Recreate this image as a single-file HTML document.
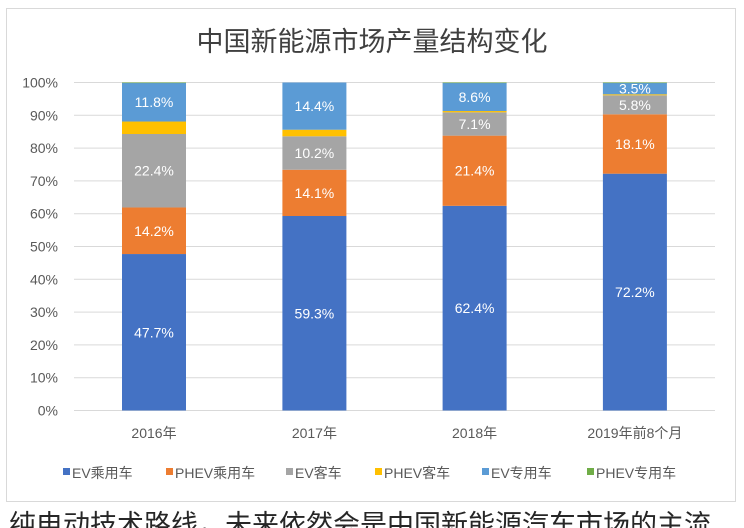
<!DOCTYPE html>
<html><head><meta charset="utf-8"><style>
html,body{margin:0;padding:0;background:#fff;width:744px;height:528px;overflow:hidden}
svg{display:block}
text{font-family:"Liberation Sans","Noto Sans CJK SC",sans-serif}
</style></head><body>
<svg width="744" height="528" viewBox="0 0 744 528" xmlns="http://www.w3.org/2000/svg">
<rect x="0" y="0" width="744" height="528" fill="#fff"/>
<rect x="6.5" y="8.5" width="729" height="493" fill="#fff" stroke="#d9d9d9" stroke-width="1"/>
<text x="372" y="51" text-anchor="middle" font-size="27" fill="#404040">中国新能源市场产量结构变化</text>
<g stroke="#d9d9d9" stroke-width="1">
<line x1="74" x2="715" y1="82.5" y2="82.5"/>
<line x1="74" x2="715" y1="115.3" y2="115.3"/>
<line x1="74" x2="715" y1="148.1" y2="148.1"/>
<line x1="74" x2="715" y1="180.9" y2="180.9"/>
<line x1="74" x2="715" y1="213.7" y2="213.7"/>
<line x1="74" x2="715" y1="246.5" y2="246.5"/>
<line x1="74" x2="715" y1="279.3" y2="279.3"/>
<line x1="74" x2="715" y1="312.1" y2="312.1"/>
<line x1="74" x2="715" y1="344.9" y2="344.9"/>
<line x1="74" x2="715" y1="377.7" y2="377.7"/>
<line x1="74" x2="715" y1="410.5" y2="410.5"/>
</g>
<g font-size="14" fill="#595959" text-anchor="end">
<text x="58" y="87.5">100%</text>
<text x="58" y="120.3">90%</text>
<text x="58" y="153.1">80%</text>
<text x="58" y="185.9">70%</text>
<text x="58" y="218.7">60%</text>
<text x="58" y="251.5">50%</text>
<text x="58" y="284.3">40%</text>
<text x="58" y="317.1">30%</text>
<text x="58" y="349.9">20%</text>
<text x="58" y="382.7">10%</text>
<text x="58" y="415.5">0%</text>
</g>
<!-- 2016 -->
<g>
<rect x="122" y="254.04" width="64" height="156.46" fill="#4472C4"/>
<rect x="122" y="207.47" width="64" height="46.57" fill="#ED7D31"/>
<rect x="122" y="134.0" width="64" height="73.47" fill="#A5A5A5"/>
<rect x="122" y="121.53" width="64" height="12.47" fill="#FFC000"/>
<rect x="122" y="82.83" width="64" height="38.7" fill="#5B9BD5"/>
<rect x="122" y="82.5" width="64" height="0.6" fill="#70AD47"/>
</g>
<!-- 2017 -->
<g>
<rect x="282.4" y="216.0" width="64" height="194.5" fill="#4472C4"/>
<rect x="282.4" y="169.75" width="64" height="46.25" fill="#ED7D31"/>
<rect x="282.4" y="136.29" width="64" height="33.46" fill="#A5A5A5"/>
<rect x="282.4" y="129.73" width="64" height="6.56" fill="#FFC000"/>
<rect x="282.4" y="82.5" width="64" height="47.23" fill="#5B9BD5"/>
</g>
<!-- 2018 -->
<g>
<rect x="442.6" y="205.83" width="64" height="204.67" fill="#4472C4"/>
<rect x="442.6" y="135.64" width="64" height="70.19" fill="#ED7D31"/>
<rect x="442.6" y="112.35" width="64" height="23.29" fill="#A5A5A5"/>
<rect x="442.6" y="111.04" width="64" height="1.31" fill="#FFC000"/>
<rect x="442.6" y="82.83" width="64" height="28.21" fill="#5B9BD5"/>
<rect x="442.6" y="82.5" width="64" height="0.6" fill="#70AD47"/>
</g>
<!-- 2019 -->
<g>
<rect x="602.9" y="173.68" width="64" height="236.82" fill="#4472C4"/>
<rect x="602.9" y="114.3" width="64" height="59.38" fill="#ED7D31"/>
<rect x="602.9" y="95.3" width="64" height="19.0" fill="#A5A5A5"/>
<rect x="602.9" y="94.3" width="64" height="1.0" fill="#FFC000"/>
<rect x="602.9" y="82.83" width="64" height="11.47" fill="#5B9BD5"/>
<rect x="602.9" y="82.5" width="64" height="0.6" fill="#70AD47"/>
</g>
<g font-size="14" fill="#ffffff" text-anchor="middle">
<text x="154" y="337.3">47.7%</text>
<text x="154" y="235.8">14.2%</text>
<text x="154" y="175.7">22.4%</text>
<text x="154" y="107.2">11.8%</text>
<text x="314.4" y="318.3">59.3%</text>
<text x="314.4" y="197.9">14.1%</text>
<text x="314.4" y="158.0">10.2%</text>
<text x="314.4" y="111.1">14.4%</text>
<text x="474.6" y="313.2">62.4%</text>
<text x="474.6" y="175.7">21.4%</text>
<text x="474.6" y="129.0">7.1%</text>
<text x="474.6" y="101.9">8.6%</text>
<text x="634.9" y="297.1">72.2%</text>
<text x="634.9" y="149.0">18.1%</text>
<text x="634.9" y="109.8">5.8%</text>
<text x="634.9" y="93.6">3.5%</text>
</g>
<g font-size="14" fill="#595959" text-anchor="middle">
<text x="154" y="438">2016年</text>
<text x="314.4" y="438">2017年</text>
<text x="474.6" y="438">2018年</text>
<text x="634.9" y="438">2019年前8个月</text>
</g>
<g font-size="14" fill="#595959">
<rect x="63" y="468" width="7" height="7" fill="#4472C4"/>
<text x="72" y="478">EV乘用车</text>
<rect x="166" y="468" width="7" height="7" fill="#ED7D31"/>
<text x="175" y="478">PHEV乘用车</text>
<rect x="286" y="468" width="7" height="7" fill="#A5A5A5"/>
<text x="295" y="478">EV客车</text>
<rect x="375" y="468" width="7" height="7" fill="#FFC000"/>
<text x="384" y="478">PHEV客车</text>
<rect x="482" y="468" width="7" height="7" fill="#5B9BD5"/>
<text x="491" y="478">EV专用车</text>
<rect x="587" y="468" width="7" height="7" fill="#70AD47"/>
<text x="596" y="478">PHEV专用车</text>
</g>
<text x="9" y="534" font-size="27" fill="#262626">纯电动技术路线，未来依然会是中国新能源汽车市场的主流</text>
</svg>
</body></html>
